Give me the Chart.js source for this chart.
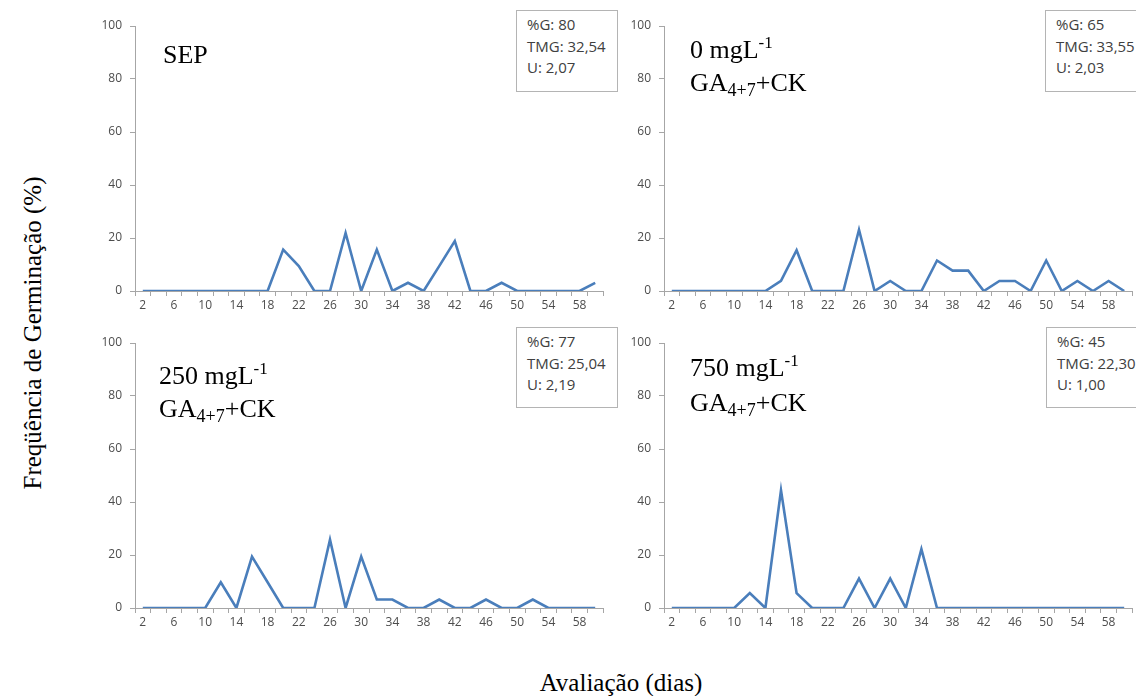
<HTML>

<head>
  <script src="https://cdn.jsdelivr.net/npm/chart.js@4.4.0/dist/chart.umd.min.js"></script>

  <style>
    body {
      margin: 0;
      background-color: white;
      width: 1136px;
      height: 696px;
      position: relative;
      overflow: hidden;
    }

    canvas {
      position: absolute;
    }

    .caixa {
      position: absolute;
      box-sizing: border-box;
      border: 1px solid #b4b4b4;
      background-color: white;
      font-family: "Open Sans", sans-serif;
      font-size: 15px;
      line-height: 21.5px;
      color: #404040;
      padding: 3px 0 0 10px;
      white-space: nowrap;
    }

    .rotulo {
      position: absolute;
      font-family: "Liberation Serif", "Times New Roman", serif;
      font-size: 26px;
      line-height: 26px;
      color: black;
      white-space: nowrap;
    }

    .rotulo sup {
      font-size: 17px;
      vertical-align: baseline;
      position: relative;
      top: -10px;
    }

    .rotulo sub {
      font-size: 18px;
      vertical-align: baseline;
      position: relative;
      top: 5px;
    }

    .titulo {
      position: absolute;
      font-family: "Liberation Serif", "Times New Roman", serif;
      font-size: 25px;
      line-height: 25px;
      color: black;
      white-space: nowrap;
    }
  </style>
</head>

<body>
  <canvas id="c1" width="550" height="320" style="left:60px; top:0px"></canvas>
  <canvas id="c2" width="546" height="320" style="left:590px; top:0px"></canvas>
  <canvas id="c3" width="550" height="320" style="left:60px; top:320px"></canvas>
  <canvas id="c4" width="546" height="320" style="left:590px; top:320px"></canvas>

  <!-- caixas com os indices -->
  <div class="caixa" style="left:516px; top:10px; width:102px; height:82px">%G: 80<br>TMG: 32,54<br>U: 2,07</div>
  <div class="caixa" style="left:1045px; top:10px; width:102px; height:82px">%G: 65<br>TMG: 33,55<br>U: 2,03</div>
  <div class="caixa" style="left:516px; top:327px; width:102px; height:81px">%G: 77<br>TMG: 25,04<br>U: 2,19</div>
  <div class="caixa" style="left:1046px; top:327px; width:102px; height:81px">%G: 45<br>TMG: 22,30<br>U: 1,00</div>

  <!-- rotulos dos tratamentos -->
  <div class="rotulo" style="left:163px; top:42px">SEP</div>
  <div class="rotulo" style="left:690px; top:37px">0 mgL<sup>-1</sup></div>
  <div class="rotulo" style="left:690px; top:70px">GA<sub>4+7</sub>+CK</div>
  <div class="rotulo" style="left:159px; top:363px">250 mgL<sup>-1</sup></div>
  <div class="rotulo" style="left:159px; top:396px">GA<sub>4+7</sub>+CK</div>
  <div class="rotulo" style="left:690px; top:355px">750 mgL<sup>-1</sup></div>
  <div class="rotulo" style="left:690px; top:390px">GA<sub>4+7</sub>+CK</div>

  <!-- titulos dos eixos -->
  <div class="titulo" style="left:621px; top:670px; transform:translateX(-50%)">Avaliação (dias)</div>
  <div class="titulo" style="left:32px; top:333px; transform:translate(-50%,-50%) rotate(-90deg)">Freqüência de Germinação (%)</div>

  <script>
    // dias de avaliacao
    var dias = [2, 4, 6, 8, 10, 12, 14, 16, 18, 20, 22, 24, 26, 28, 30,
      32, 34, 36, 38, 40, 42, 44, 46, 48, 50, 52, 54, 56, 58, 60];

    // frequencia de germinacao (%) por tratamento
    var sep = [0, 0, 0, 0, 0, 0, 0, 0, 0, 15.6, 9.4, 0, 0, 21.9, 0,
      15.6, 0, 3.1, 0, 9.4, 18.8, 0, 0, 3.1, 0, 0, 0, 0, 0, 3.1];
    var ga0 = [0, 0, 0, 0, 0, 0, 0, 3.8, 15.4, 0, 0, 0, 23.1, 0, 3.8,
      0, 0, 11.5, 7.7, 7.7, 0, 3.8, 3.8, 0, 11.5, 0, 3.8, 0, 3.8, 0];
    var ga250 = [0, 0, 0, 0, 0, 9.7, 0, 19.4, 9.7, 0, 0, 0, 25.8, 0, 19.4,
      3.2, 3.2, 0, 0, 3.2, 0, 0, 3.2, 0, 0, 3.2, 0, 0, 0, 0];
    var ga750 = [0, 0, 0, 0, 0, 5.6, 0, 44.4, 5.6, 0, 0, 0, 11.1, 0, 11.1,
      0, 22.2, 0, 0, 0, 0, 0, 0, 0, 0, 0, 0, 0, 0, 0];

    var yTicks = [0, 20, 40, 60, 80, 100];

    var cinza = '#a6a6a6';
    var fonteEixo = { family: 'Open Sans', size: 12 };

    function grafico(id, valores, padTop, padRight, alturaX, larguraY) {
      var ctx = document.getElementById(id).getContext('2d');
      return new Chart(ctx, {
        type: 'line',
        data: {
          labels: dias,
          datasets: [{
            data: valores,
            borderColor: '#4a7ebb',
            borderWidth: 2.6,
            pointRadius: 0,
            tension: 0,
            fill: false
          }]
        },
        options: {
          responsive: false,
          animation: false,
          layout: { padding: { top: padTop, right: padRight, left: 0, bottom: 0 } },
          plugins: { legend: { display: false }, tooltip: { enabled: false } },
          scales: {
            x: {
              offset: true,
              grid: { offset: true, drawOnChartArea: false, tickLength: 5, color: cinza },
              border: { color: cinza },
              ticks: {
                autoSkip: false,
                maxRotation: 0,
                padding: 2,
                color: '#4d4d4d',
                font: fonteEixo,
                callback: function (v, i) { return i % 2 === 0 ? dias[i] : ''; }
              },
              afterFit: function (s) { s.height = alturaX; }
            },
            y: {
              min: yTicks[0],
              max: yTicks[yTicks.length - 1],
              grid: { drawOnChartArea: false, tickLength: 5, color: cinza },
              border: { color: cinza },
              ticks: { stepSize: 20, padding: 8, color: '#4d4d4d', font: fonteEixo },
              afterFit: function (s) { s.width = larguraY; }
            }
          }
        }
      });
    }

    grafico('c1', sep, 26, 7, 29, 75);
    grafico('c2', ga0, 26, 4, 29, 74);
    grafico('c3', ga250, 23, 7, 32, 75);
    grafico('c4', ga750, 23, 4, 32, 74);
  </script>
</body>

</HTML>
